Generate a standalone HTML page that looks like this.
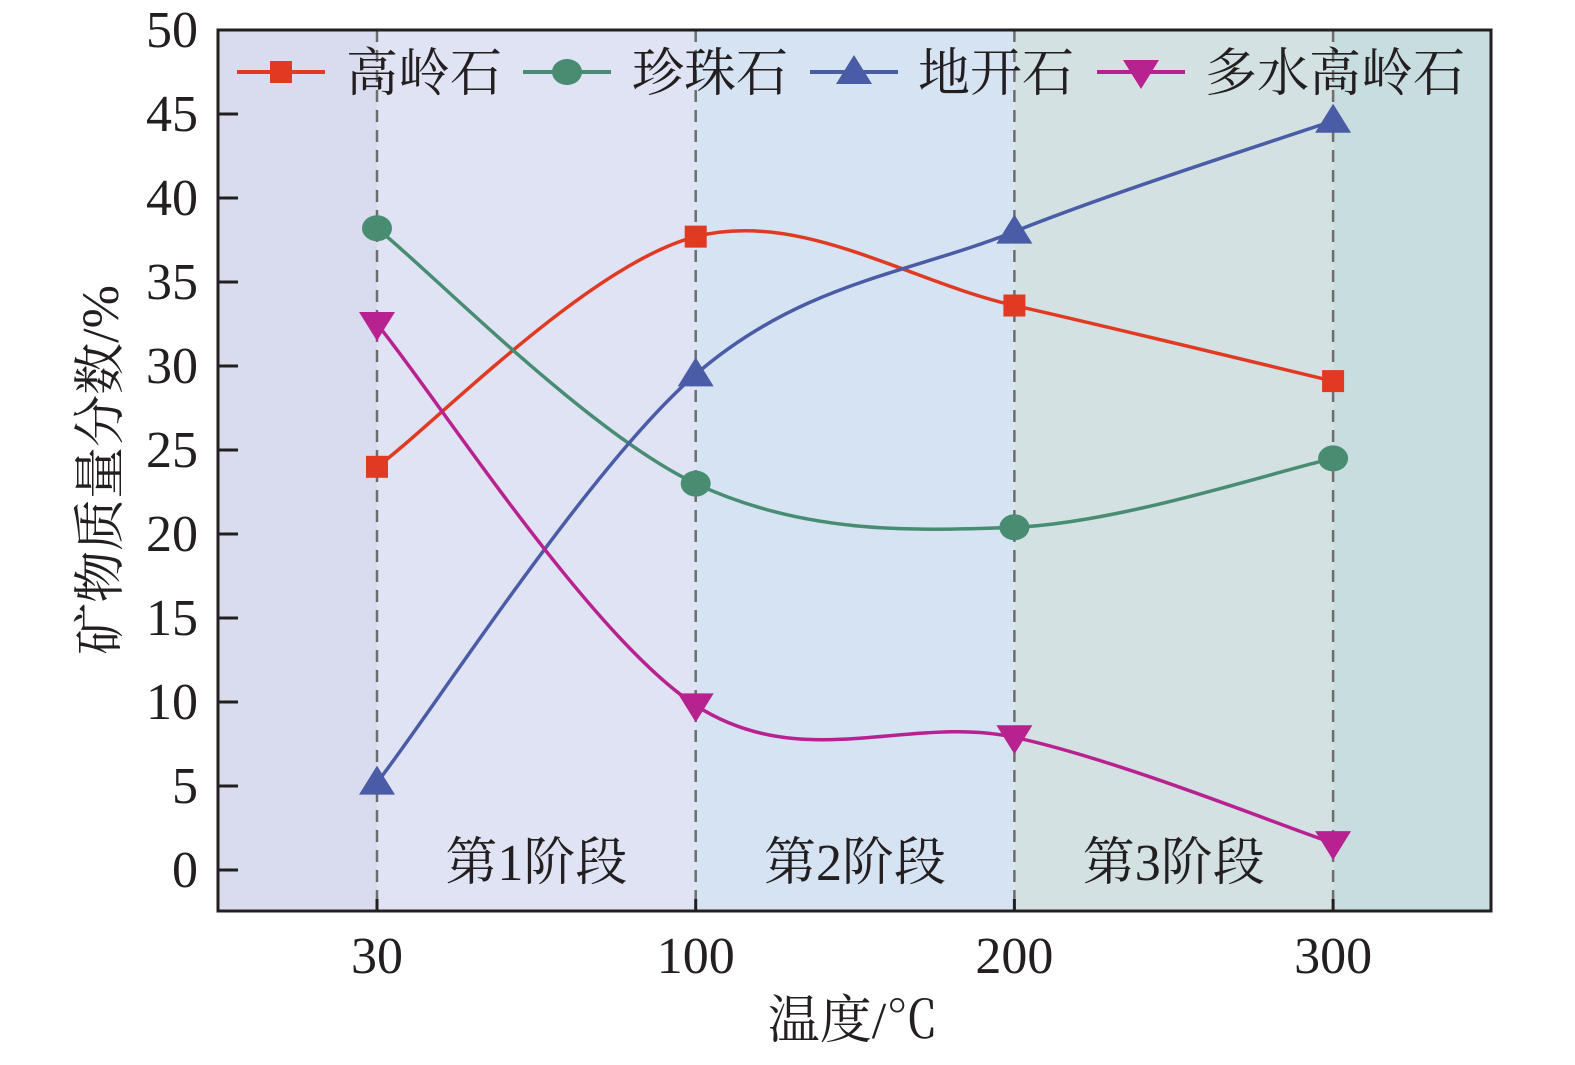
<!DOCTYPE html>
<html><head><meta charset="utf-8"><style>
html,body{margin:0;padding:0;background:#fff;}
svg text{font-family:"Liberation Serif","Noto Serif CJK SC",serif;fill:#231f20;}
svg text.num{font-family:"Liberation Serif",serif;}
</style></head><body>
<svg id="chart" width="1575" height="1060" xmlns="http://www.w3.org/2000/svg"></svg>
<script>
const categories=["30","100","200","300"];
const yTicks=[0,5,10,15,20,25,30,35,40,45,50];
const seriesNames=["高岭石","珍珠石","地开石","多水高岭石"];
const kaolinite=[24,37.7,33.6,29.1];
const nacrite=[38.2,23,20.4,24.5];
const dickite=[5.2,29.5,38,44.6];
const halloysite=[32.5,9.8,7.9,1.6];
const stageLabels=["第1阶段","第2阶段","第3阶段"];

const L=218,R=1491,T=30,B=911;
const svg=document.getElementById('chart');
const NS='http://www.w3.org/2000/svg';
function xS(i){return 377+i*318.7;}
function yS(v){return 870-v*16.8;}
function mk(tag,attrs,parent){const e=document.createElementNS(NS,tag);for(const k in attrs)e.setAttribute(k,attrs[k]);(parent||svg).appendChild(e);return e;}

const bandColors=["#d9dcee","#e0e3f3","#d6e3f3","#d3e1e3","#c8dde0"];
const edges=[L,xS(0),xS(1),xS(2),xS(3),R];
for(let i=0;i<5;i++){
  const r=mk('rect',{x:edges[i],y:T,width:edges[i+1]-edges[i],height:B-T,fill:bandColors[i]});
  
  
}
categories.forEach((c,i)=>{
  const l=mk('line',{x1:xS(i),x2:xS(i),y1:T,y2:B,stroke:'#6d6d6d','stroke-width':2.5,'stroke-dasharray':'12,8'});
  
  
});
stageLabels.forEach((s,i)=>{
  const t=mk('text',{x:(xS(i)+xS(i+1))/2,y:880,'font-size':52,'text-anchor':'middle'});
  t.textContent=s;
  
  
});
yTicks.forEach(v=>{
  const y=yS(v);
  const tk=mk('line',{x1:L,x2:L+20,y1:y,y2:y,stroke:'#231f20','stroke-width':3});
  
  
  const t=mk('text',{x:198,y:y+17,'font-size':52,'text-anchor':'end',class:'num'});
  t.textContent=v;
  
  
});
categories.forEach((c,i)=>{
  const tk=mk('line',{x1:xS(i),x2:xS(i),y1:B,y2:B-12,stroke:'#231f20','stroke-width':3});
  
  
  const t=mk('text',{x:xS(i),y:973,'font-size':52,'text-anchor':'middle',class:'num'});
  t.textContent=c;
  
  
});
const xt=mk('text',{x:853,y:1038,'font-size':52,'text-anchor':'middle'});
xt.textContent='温度/℃';


const yt=mk('text',{x:0,y:0,'font-size':52,'text-anchor':'middle',transform:'translate(118,470) rotate(-90)'});
yt.textContent='矿物质量分数/%';



function spline(vals){
  const p=vals.map((v,i)=>[xS(i),yS(v)]);
  let d='M'+p[0][0]+','+p[0][1];
  for(let i=0;i<p.length-1;i++){
    const p0=p[i-1]||p[i],p1=p[i],p2=p[i+1],p3=p[i+2]||p[i+1];
    const c1=[p1[0]+(p2[0]-p0[0])/6,p1[1]+(p2[1]-p0[1])/6];
    const c2=[p2[0]-(p3[0]-p1[0])/6,p2[1]-(p3[1]-p1[1])/6];
    d+=' C'+c1+' '+c2+' '+p2;
  }
  return d;
}
const series=[[kaolinite,'#e03a22','square'],[nacrite,'#488c72','circle'],[dickite,'#4a5ca6','up'],[halloysite,'#b82290','down']];
function marker(shape,x,y,col,g){
  if(shape==='square')return mk('rect',{x:x-11,y:y-11,width:22,height:22,fill:col},g);
  if(shape==='circle')return mk('ellipse',{cx:x,cy:y,rx:15,ry:13,fill:col},g);
  if(shape==='up')return mk('polygon',{points:`${x},${y-17} ${x+18},${y+12} ${x-18},${y+12}`,fill:col},g);
  return mk('polygon',{points:`${x},${y+17} ${x+18},${y-12} ${x-18},${y-12}`,fill:col},g);
}
series.forEach(([vals,col,shape],si)=>{
  const g=mk('g',{});
  
  
  const p=mk('path',{d:spline(vals),fill:'none',stroke:col,'stroke-width':3.5},g);
  
  
  vals.forEach((v,i)=>{
    const m=marker(shape,xS(i),yS(v),col,g);
    
    
  });
});
const legX=[237,523,810,1097],legT=[346,632,918,1205];
series.forEach(([vals,col,shape],si)=>{
  const g=mk('g',{});
  
  
  mk('line',{x1:legX[si],x2:legX[si]+88,y1:72,y2:72,stroke:col,'stroke-width':4},g);
  marker(shape,legX[si]+44,72,col,g);
  const t=mk('text',{x:legT[si],y:91,'font-size':52},g);
  t.textContent=seriesNames[si];
});
const f=mk('rect',{x:L,y:T,width:R-L,height:B-T,fill:'none',stroke:'#231f20','stroke-width':3});


</script>
</body></html>
